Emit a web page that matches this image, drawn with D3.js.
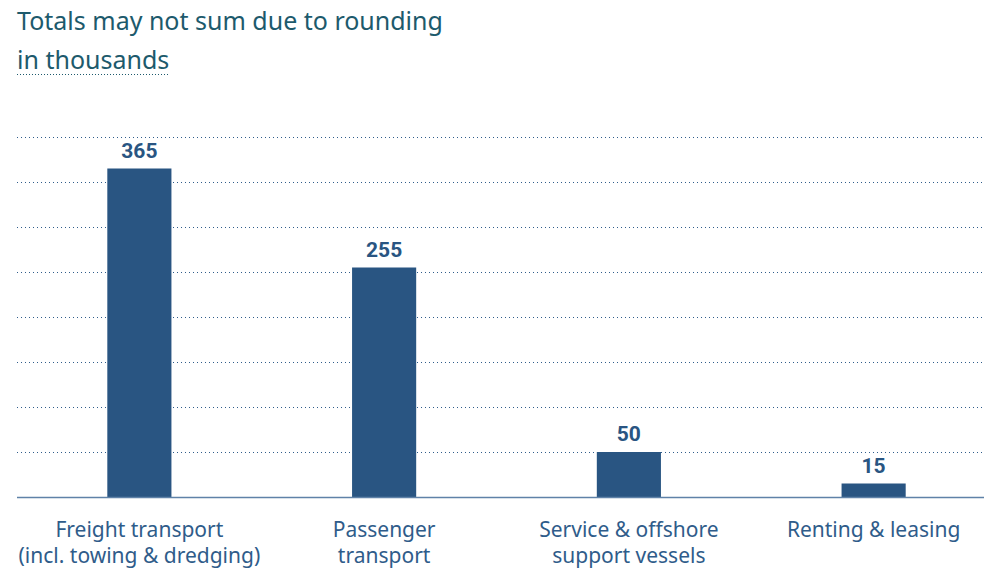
<!DOCTYPE html>
<html>
<head>
<meta charset="utf-8">
<script src="https://cdn.jsdelivr.net/npm/d3@7"></script>
<style>
  body { margin: 0; background: #fff; }
  svg { display: block; }
</style>
</head>
<body>
<div id="vis"></div>
<script>
// chart data
var categories = [
  ["Freight transport", "(incl. towing & dredging)"],
  ["Passenger", "transport"],
  ["Service & offshore", "support vessels"],
  ["Renting & leasing"]
];
var values = [365, 255, 50, 15];
var gridValues = [50, 100, 150, 200, 250, 300, 350, 400];
var titleLines = ["Totals may not sum due to rounding", "in thousands"];

var width = 985, height = 569;
var barColor = "#295582";

var svg = d3.select("#vis").append("svg")
  .attr("width", width)
  .attr("height", height);

// scales
var x = d3.scaleBand().domain(d3.range(values.length)).range([17, 996]);
var y = d3.scaleLinear().domain([0, 400]).range([497, 137]);

// gridlines
svg.append("g").selectAll("line")
  .data(gridValues)
  .enter().append("line")
  .attr("x1", 17).attr("x2", 984)
  .attr("y1", d => Math.round(y(d)) + 0.5).attr("y2", d => Math.round(y(d)) + 0.5)
  .attr("stroke", "#2f5c8a")
  .attr("stroke-width", 1)
  .attr("stroke-dasharray", "1,3");

// bars
var bw = x.bandwidth() * 0.262;
svg.append("g").selectAll("rect")
  .data(values)
  .enter().append("rect")
  .attr("x", (d, i) => x(i) + x.bandwidth() / 2 - bw / 2)
  .attr("y", d => y(d))
  .attr("width", bw)
  .attr("height", d => y(0) - y(d))
  .attr("fill", barColor);

// baseline
svg.append("line")
  .attr("x1", 17).attr("x2", 984)
  .attr("y1", y(0) + 0.5).attr("y2", y(0) + 0.5)
  .attr("stroke", "#5f82a8")
  .attr("stroke-width", 1.5);

// value labels
svg.append("g").selectAll("text")
  .data(values)
  .enter().append("text")
  .attr("x", (d, i) => x(i) + x.bandwidth() / 2)
  .attr("y", d => y(d) - 11)
  .attr("text-anchor", "middle")
  .attr("font-family", "Roboto, sans-serif")
  .attr("font-weight", "bold")
  .attr("font-size", 21)
  .attr("fill", barColor)
  .text(d => d);

// category labels
var cat = svg.append("g").selectAll("text")
  .data(categories)
  .enter().append("text")
  .attr("x", (d, i) => x(i) + x.bandwidth() / 2)
  .attr("y", 537)
  .attr("text-anchor", "middle")
  .attr("font-family", "'Noto Sans', sans-serif")
  .attr("font-size", 21)
  .attr("fill", "#2f5c8a");
cat.selectAll("tspan")
  .data(d => d)
  .enter().append("tspan")
  .attr("x", function () { return d3.select(this.parentNode).attr("x"); })
  .attr("dy", (d, i) => i === 0 ? 0 : 26)
  .text(d => d);

// title
var title = svg.append("g").selectAll("text")
  .data(titleLines)
  .enter().append("text")
  .attr("x", 17)
  .attr("y", (d, i) => 30 + i * 39)
  .attr("font-family", "'Noto Sans', sans-serif")
  .attr("font-size", 25)
  .attr("fill", "#1d5a6c")
  .text(d => d);

// dotted underline under unit line
var unitW = title.nodes()[1].getComputedTextLength();
svg.append("line")
  .attr("x1", 17).attr("x2", 17 + unitW)
  .attr("y1", 74.5).attr("y2", 74.5)
  .attr("stroke", "#1d5a6c")
  .attr("stroke-width", 1)
  .attr("stroke-dasharray", "1,2");
</script>
</body>
</html>
